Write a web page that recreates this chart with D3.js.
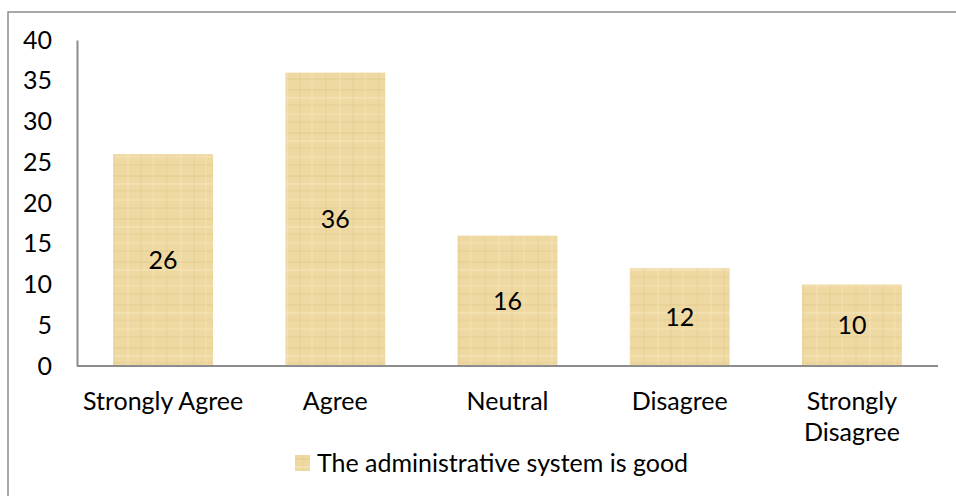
<!DOCTYPE html>
<html>
<head>
<meta charset="utf-8">
<script src="https://cdn.jsdelivr.net/npm/d3@7"></script>
<style>
  body { margin: 0; background: #fff; }
  svg text { font-family: Lato, "Open Sans", sans-serif; fill: #000; }
</style>
</head>
<body>
<svg id="chart" width="956" height="496"></svg>
<script>
const categories = ['Strongly Agree', 'Agree', 'Neutral', 'Disagree', 'Strongly Disagree'];
const values = [26, 36, 16, 12, 10];
const yTicks = [0, 5, 10, 15, 20, 25, 30, 35, 40];
const seriesName = 'The administrative system is good';

const svg = d3.select('#chart');
const fontSize = 25;

// papyrus-ish fill
const defs = svg.append('defs');
const pat = defs.append('pattern')
    .attr('id', 'papyrus')
    .attr('patternUnits', 'userSpaceOnUse')
    .attr('width', 53)
    .attr('height', 43);
pat.append('rect').attr('width', 53).attr('height', 43).attr('fill', '#efd9a2');
const hLines = [[3, '#dcc081', 0.3], [11, '#f8e8c0', 0.5], [18, '#d9bd7e', 0.2], [27, '#f6e4b6', 0.45], [35, '#ddc284', 0.28]];
hLines.forEach(l => pat.append('rect').attr('x', 0).attr('y', l[0]).attr('width', 53).attr('height', 2)
    .attr('fill', l[1]).attr('opacity', l[2]));
const vLines = [[7, '#ddc285', 0.22], [21, '#f7e7bd', 0.4], [34, '#dbbf81', 0.2], [46, '#f5e3b3', 0.35]];
vLines.forEach(l => pat.append('rect').attr('x', l[0]).attr('y', 0).attr('width', 2).attr('height', 43)
    .attr('fill', l[1]).attr('opacity', l[2]));

// chart frame
svg.append('rect')
    .attr('x', 8).attr('y', 12)
    .attr('width', 960).attr('height', 500)
    .attr('fill', 'none')
    .attr('stroke', '#8c8c8c')
    .attr('stroke-width', 1.5);

const x0 = 77, x1 = 938, yTop = 40, yBase = 366;

const xScale = d3.scaleBand()
    .domain(categories)
    .range([x0, x1])
    .paddingInner(0.42)
    .paddingOuter(0.21);

const yScale = d3.scaleLinear()
    .domain([0, 40])
    .range([yBase, yTop]);

// bars
svg.selectAll('rect.bar').data(values)
    .enter().append('rect')
        .attr('class', 'bar')
        .attr('x', (d, i) => xScale(categories[i]))
        .attr('y', d => yScale(d))
        .attr('width', xScale.bandwidth())
        .attr('height', d => yBase - yScale(d))
        .attr('fill', 'url(#papyrus)');

// data labels
svg.selectAll('text.dlabel').data(values)
    .enter().append('text')
        .attr('class', 'dlabel')
        .attr('x', (d, i) => xScale(categories[i]) + xScale.bandwidth() / 2)
        .attr('y', d => (yScale(d) + yBase) / 2)
        .attr('dy', '0.35em')
        .attr('text-anchor', 'middle')
        .style('font-size', fontSize + 'px')
        .text(d => d);

// y axis
const yAxis = d3.axisLeft(yScale).tickValues(yTicks).tickSize(0).tickPadding(25);
const yAxisG = svg.append('g')
    .attr('transform', `translate(${x0},0)`)
    .call(yAxis);
yAxisG.select('.domain').attr('stroke', '#8c8c8c').attr('stroke-width', 2);
yAxisG.selectAll('text').style('font-size', fontSize + 'px').attr('fill', '#000');

// x axis
const xAxis = d3.axisBottom(xScale).tickSize(0).tickFormat('');
const xAxisG = svg.append('g')
    .attr('transform', `translate(0,${yBase})`)
    .call(xAxis);
xAxisG.select('.domain').attr('stroke', '#8c8c8c').attr('stroke-width', 2)
    .attr('d', `M${x0},0H${x1}`);

// category labels, wrapped like the original
const wrapped = {'Strongly Disagree': ['Strongly', 'Disagree']};
categories.forEach(c => {
    const lines = wrapped[c] || [c];
    const t = svg.append('text')
        .attr('x', xScale(c) + xScale.bandwidth() / 2)
        .attr('y', 410)
        .attr('text-anchor', 'middle')
        .style('font-size', fontSize + 'px');
    lines.forEach((ln, i) => t.append('tspan')
        .attr('x', xScale(c) + xScale.bandwidth() / 2)
        .attr('dy', i === 0 ? 0 : 31)
        .text(ln));
});

// legend
const legend = svg.append('g').attr('transform', 'translate(295,455)');
legend.append('rect').attr('width', 15).attr('height', 16).attr('fill', 'url(#papyrus)');
legend.append('text')
    .attr('x', 22).attr('y', 8)
    .attr('dy', '0.35em')
    .style('font-size', fontSize + 'px')
    .text(seriesName);
</script>
</body>
</html>
